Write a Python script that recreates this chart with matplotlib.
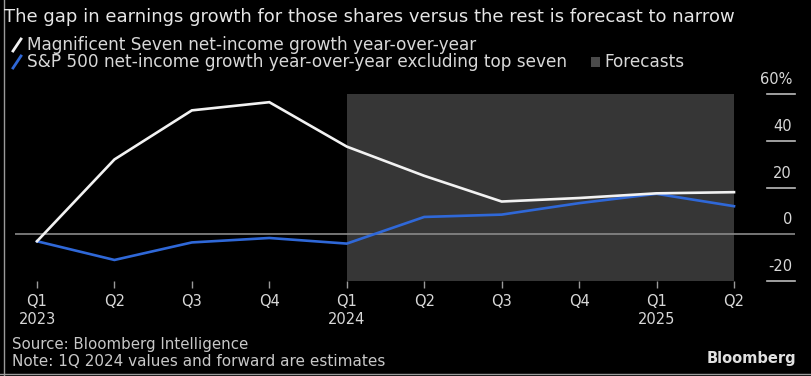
import matplotlib
matplotlib.use("Agg")
import matplotlib.pyplot as plt
import matplotlib.transforms as mtransforms
from matplotlib.lines import Line2D
from matplotlib.patches import Rectangle

quarters = ["Q1\n2023", "Q2", "Q3", "Q4", "Q1\n2024", "Q2", "Q3", "Q4", "Q1\n2025", "Q2"]
mag7 = [-3, 32, 53, 56.5, 37.5, 25, 14, 15.5, 17.5, 18]
sp493 = [-3, -11, -3.5, -1.6, -4, 7.4, 8.4, 13.3, 17.3, 12]
yticks = [-20, 0, 20, 40, 60]
ytick_labels = ["-20", "0", "20", "40", "60%"]
forecast_start = 4
forecast_end = 9

W, H = 812, 376
fig = plt.figure(figsize=(W / 100, H / 100), dpi=100, facecolor="black")

def px_rect(x0, y0, x1, y1):
    return [x0 / W, 1 - y1 / H, (x1 - x0) / W, (y1 - y0) / H]

ax = fig.add_axes(px_rect(15, 94, 795, 281), facecolor="black")
x = list(range(len(quarters)))
ppu = (734 - 37) / 9.0
ax.set_xlim(-(37 - 15) / ppu, (795 - 37) / ppu)
ax.set_ylim(-20, 60)

ax.axvspan(forecast_start, forecast_end, color="#363636", lw=0, zorder=0)
ax.axhline(0, color="#8a8a8a", lw=1.2, zorder=1)
ax.plot(x, sp493, color="#2f68d8", lw=1.9, zorder=3, solid_joinstyle="miter")
ax.plot(x, mag7, color="#f2f2f2", lw=1.9, zorder=4, solid_joinstyle="miter")

for s in ax.spines.values():
    s.set_visible(False)
ax.set_xticks(x)
ax.set_xticklabels(quarters, color="#d8d8d8", fontsize=10.5, linespacing=1.25)
ax.tick_params(axis="x", colors="#9a9a9a", length=5, width=1, pad=4, labelcolor="#d8d8d8")
ax.set_yticks([])

# right-side value axis marks and labels
btrans = mtransforms.blended_transform_factory(ax.transAxes, ax.transData)
x0f = (767 - 15) / 780.0
x1f = (795 - 15) / 780.0
for v, lab in zip(yticks, ytick_labels):
    if v != 0:
        ax.plot([x0f, x1f], [v, v], transform=btrans, color="#bbbbbb", lw=1.2, clip_on=False)
    ax.annotate(lab, xy=(x1f - 0.004, v), xycoords=btrans, xytext=(0, 5), textcoords="offset points",
                ha="right", va="bottom", color="#d8d8d8", fontsize=10.5, annotation_clip=False)

# header texts
def ftext(xp, yp, s, **kw):
    return fig.text(xp / W, 1 - yp / H, s, **kw)

ftext(4, 17, "The gap in earnings growth for those shares versus the rest is forecast to narrow",
      color="#e6e6e6", fontsize=13, va="center", ha="left")
ftext(27, 45, "Magnificent Seven net-income growth year-over-year",
      color="#d8d8d8", fontsize=12.2, va="center", ha="left")
ftext(27, 62, "S&P 500 net-income growth year-over-year excluding top seven",
      color="#d8d8d8", fontsize=12.2, va="center", ha="left")
ftext(604, 62, "Forecasts", color="#d8d8d8", fontsize=12.2, va="center", ha="left")
fig.add_artist(Line2D([13 / W, 21 / W], [1 - 51 / H, 1 - 39 / H], color="#f2f2f2", lw=2))
fig.add_artist(Line2D([13 / W, 21 / W], [1 - 68 / H, 1 - 56 / H], color="#2f68d8", lw=2))
fig.add_artist(Rectangle((591 / W, 1 - 67 / H), 9 / W, 10 / H, color="#4a4a4a", lw=0))

# footer
ftext(12, 345, "Source: Bloomberg Intelligence", color="#c8c8c8", fontsize=10.8, va="center", ha="left")
ftext(12, 362, "Note: 1Q 2024 values and forward are estimates", color="#c8c8c8", fontsize=11,
      va="center", ha="left")
ftext(796, 358, "Bloomberg", color="#e0e0e0", fontsize=10.5, fontweight="bold", va="center", ha="right")

# image border lines
fig.add_artist(Line2D([4.5 / W, 4.5 / W], [0, 1], color="#9a9a9a", lw=1))
fig.add_artist(Line2D([0, 1], [1 - 374 / H, 1 - 374 / H], color="#9a9a9a", lw=1))

fig.savefig("out.png", dpi=100, facecolor="black")
